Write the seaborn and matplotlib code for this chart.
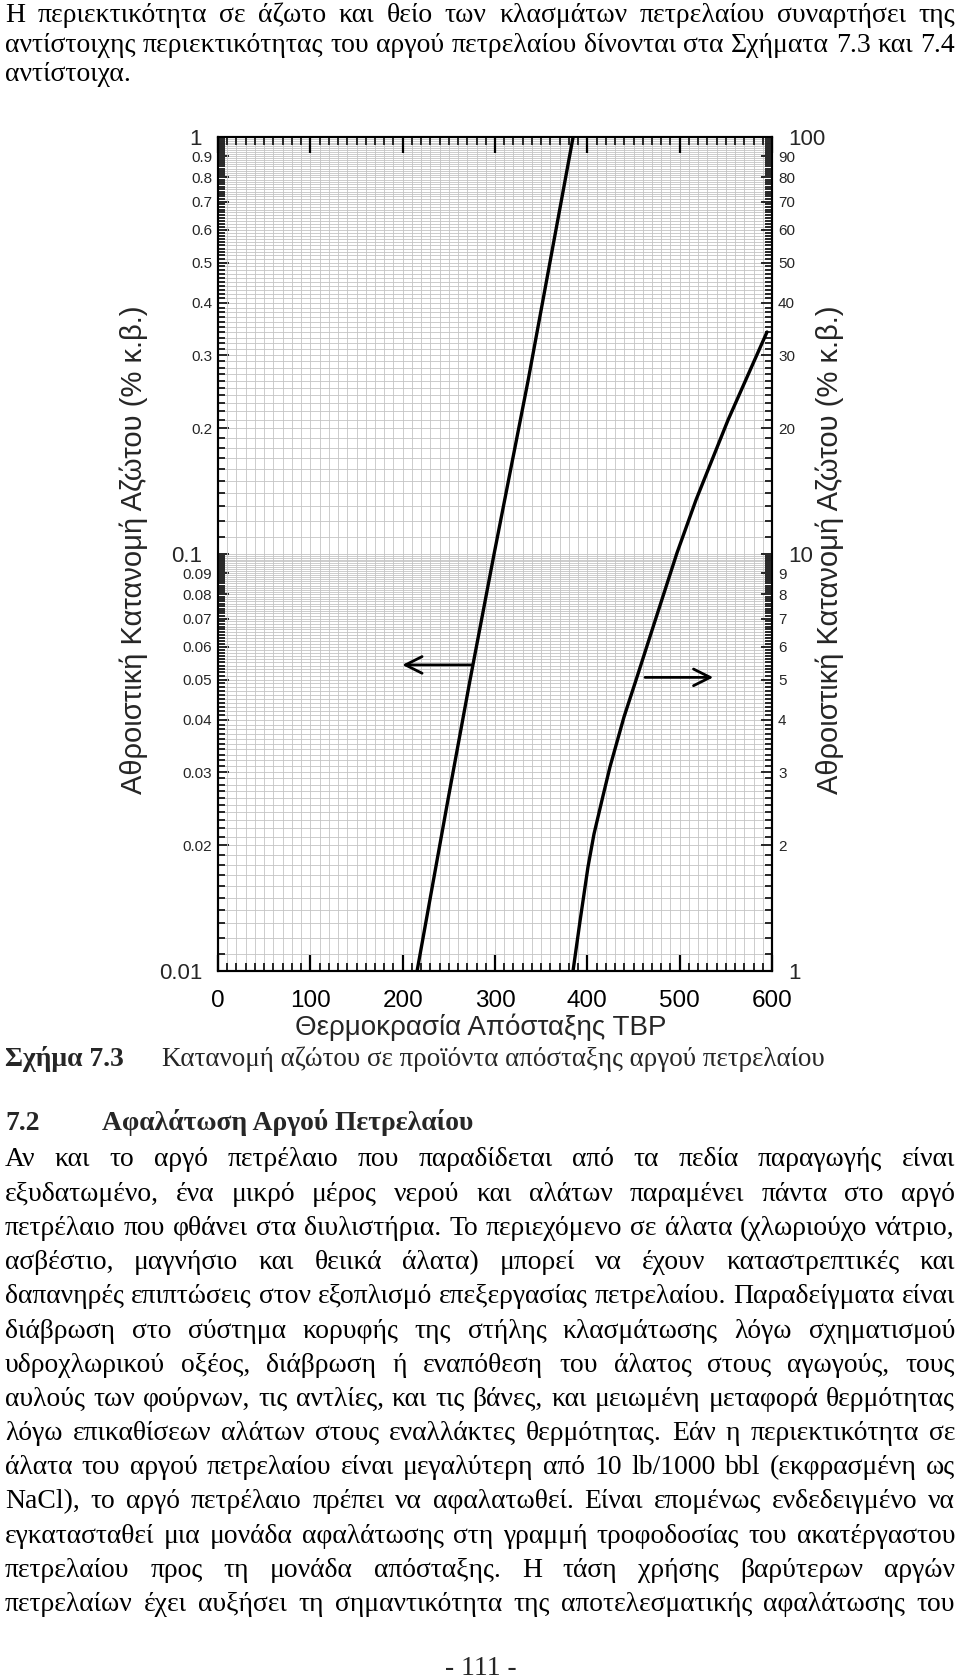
import numpy as np
import matplotlib
matplotlib.use("Agg")
import matplotlib.pyplot as plt
import seaborn as sns

# ---------------- data ----------------
left_temp = [215.6, 249.0, 273.0, 299.0, 335.9, 384.6]
left_nitrogen = [0.01, 0.0257, 0.0499, 0.1, 0.261, 1.0]
right_temp = [384.5, 392.1, 400.7, 407.2, 415.9, 424.5, 439.7, 453.8, 473.3, 497.1, 517.7, 552.4, 594.6]
right_nitrogen = [1.0, 1.318, 1.776, 2.13, 2.571, 3.085, 4.066, 5.07, 6.909, 10.06, 13.48, 20.96, 34.07]

x_ticks = [0, 100, 200, 300, 400, 500, 600]
x_tick_labels = ["0", "100", "200", "300", "400", "500", "600"]
left_ticks = [0.01, 0.02, 0.03, 0.04, 0.05, 0.06, 0.07, 0.08, 0.09,
              0.1, 0.2, 0.3, 0.4, 0.5, 0.6, 0.7, 0.8, 0.9, 1.0]
left_tick_labels = ["0.01", "0.02", "0.03", "0.04", "0.05", "0.06", "0.07", "0.08", "0.09",
                    "0.1", "0.2", "0.3", "0.4", "0.5", "0.6", "0.7", "0.8", "0.9", "1"]
right_ticks = [1, 2, 3, 4, 5, 6, 7, 8, 9, 10, 20, 30, 40, 50, 60, 70, 80, 90, 100]
right_tick_labels = ["1", "2", "3", "4", "5", "6", "7", "8", "9",
                     "10", "20", "30", "40", "50", "60", "70", "80", "90", "100"]
decade_labels = {"0.01", "0.1", "1", "10", "100"}

x_label = "Θερμοκρασία Απόσταξης TBP"
y_label = "Αθροιστική Κατανομή Αζώτου (% κ.β.)"

intro_lines = [
    "Η περιεκτικότητα σε άζωτο και θείο των κλασμάτων πετρελαίου συναρτήσει της",
    "αντίστοιχης περιεκτικότητας του αργού πετρελαίου δίνονται στα Σχήματα 7.3 και 7.4",
    "αντίστοιχα.",
]
caption_num = "Σχήμα 7.3"
caption_text = "Κατανομή αζώτου σε προϊόντα απόσταξης αργού πετρελαίου"
heading_num = "7.2"
heading_text = "Αφαλάτωση Αργού Πετρελαίου"
body_lines = [
    "Αν και το αργό πετρέλαιο που παραδίδεται από τα πεδία παραγωγής είναι",
    "εξυδατωμένο, ένα μικρό μέρος νερού και αλάτων παραμένει πάντα στο αργό",
    "πετρέλαιο που φθάνει στα διυλιστήρια. Το περιεχόμενο σε άλατα (χλωριούχο νάτριο,",
    "ασβέστιο, μαγνήσιο και θειικά άλατα) μπορεί να έχουν καταστρεπτικές και",
    "δαπανηρές επιπτώσεις στον εξοπλισμό επεξεργασίας πετρελαίου. Παραδείγματα είναι",
    "διάβρωση στο σύστημα κορυφής της στήλης κλασμάτωσης λόγω σχηματισμού",
    "υδροχλωρικού οξέος, διάβρωση ή εναπόθεση του άλατος στους αγωγούς, τους",
    "αυλούς των φούρνων, τις αντλίες, και τις βάνες, και μειωμένη μεταφορά θερμότητας",
    "λόγω επικαθίσεων αλάτων στους εναλλάκτες θερμότητας. Εάν η περιεκτικότητα σε",
    "άλατα του αργού πετρελαίου είναι μεγαλύτερη από 10 lb/1000 bbl (εκφρασμένη ως",
    "NaCl), το αργό πετρέλαιο πρέπει να αφαλατωθεί. Είναι επομένως ενδεδειγμένο να",
    "εγκατασταθεί μια μονάδα αφαλάτωσης στη γραμμή τροφοδοσίας του ακατέργαστου",
    "πετρελαίου προς τη μονάδα απόσταξης. Η τάση χρήσης βαρύτερων αργών",
    "πετρελαίων έχει αυξήσει τη σημαντικότητα της αποτελεσματικής αφαλάτωσης του",
]
footer = "- 111 -"

# ---------------- style ----------------
sns.set_theme(style="white")
plt.rcParams["font.family"] = ["Liberation Sans", "DejaVu Sans"]
SERIF = ["Liberation Serif", "DejaVu Serif"]

W, H = 960, 1678
fig = plt.figure(figsize=(W / 100, H / 100), dpi=100)
fig.patch.set_facecolor("white")

ax = fig.add_axes([218 / W, 1 - 971 / H, 554 / W, 834 / H])
ax.set_facecolor("white")
ax.set_yscale("log")

sns.lineplot(x=left_temp, y=left_nitrogen, ax=ax, color="black", linewidth=2.4,
             estimator=None, sort=False)
ax.set_xlim(0, 600)
ax.set_ylim(0.01, 1)

tw = ax.twinx()
tw.set_yscale("log")
sns.lineplot(x=right_temp, y=right_nitrogen, ax=tw, color="black", linewidth=2.4,
             estimator=None, sort=False)
tw.set_ylim(1, 100)
tw.set_xlim(0, 600)

# x ticks / grid
ax.set_xticks(x_ticks)
ax.set_xticklabels(x_tick_labels, fontsize=17.5)
ax.set_xticks(np.arange(0, 601, 10), minor=True)

# y ticks
y_minor = np.concatenate([np.arange(11, 100) / 1000.0, np.arange(11, 100) / 100.0])
ax.yaxis.set_major_locator(matplotlib.ticker.FixedLocator(left_ticks))
ax.yaxis.set_minor_locator(matplotlib.ticker.FixedLocator(y_minor))
ax.yaxis.set_major_formatter(matplotlib.ticker.FixedFormatter(left_tick_labels))
ax.yaxis.set_minor_formatter(matplotlib.ticker.NullFormatter())

tw.yaxis.set_major_locator(matplotlib.ticker.FixedLocator(right_ticks))
tw.yaxis.set_minor_locator(matplotlib.ticker.FixedLocator(y_minor * 100))
tw.yaxis.set_major_formatter(matplotlib.ticker.FixedFormatter(right_tick_labels))
tw.yaxis.set_minor_formatter(matplotlib.ticker.NullFormatter())

ax.grid(which="both", axis="both", color="#c4c4c4", linewidth=0.6)
ax.set_axisbelow(True)
ax.yaxis.set_zorder(0.5)
ax.xaxis.set_zorder(0.7)
tw.grid(False)

ax.tick_params(axis="x", which="major", direction="in", length=11.5, width=1.6,
               top=True, bottom=True, labelsize=17.5, pad=13.5, colors="black")
ax.tick_params(axis="x", which="minor", direction="in", length=5.8, width=1.4,
               top=True, bottom=True)
ax.tick_params(axis="y", which="major", direction="in", length=8, width=1.4,
               left=True, right=False, labelsize=11, pad=4.3)
ax.tick_params(axis="y", which="minor", direction="in", length=5, width=1.4,
               left=True, right=False)
tw.tick_params(axis="y", which="major", direction="in", length=8, width=1.4,
               right=True, left=False, labelsize=11, pad=4.3)
tw.tick_params(axis="y", which="minor", direction="in", length=5, width=1.4,
               right=True, left=False)

for a in (ax, tw):
    for s in a.spines.values():
        s.set_visible(True)
        s.set_color("black")
        s.set_linewidth(1.5)

fig.canvas.draw()
for axis_obj, labels in ((ax.yaxis, left_tick_labels), (tw.yaxis, right_tick_labels)):
    ticks = axis_obj.get_major_ticks()
    for t, lab in zip(ticks, labels):
        if lab in decade_labels:
            t.tick1line.set_markersize(12)
            t.tick2line.set_markersize(12)
            t.label1.set_fontsize(16)
            t.label2.set_fontsize(16)
            t.set_pad(11.5)

ax.set_xlabel(x_label, fontsize=20)
ax.xaxis.set_label_coords((481 - 218) / 554, (971 - 1027) / 834)
ax.xaxis.label.set_va("center")
ax.set_ylabel(y_label, fontsize=21)
ax.yaxis.set_label_coords((134 - 218) / 554, (971 - 550) / 834)
ax.yaxis.label.set_va("center")
tw.set_ylabel(y_label, fontsize=21, rotation=90)
tw.yaxis.set_label_position("right")
tw.yaxis.set_label_coords((830 - 218) / 554, (971 - 550) / 834)
tw.yaxis.label.set_va("center")

# arrows
ax.annotate("", xy=(199.6, 0.0542), xytext=(274.8, 0.0542),
            arrowprops=dict(arrowstyle="->", color="black", lw=2.0, mutation_scale=30,
                            shrinkA=0, shrinkB=0))
tw.annotate("", xy=(536.4, 5.06), xytext=(462.5, 5.06),
            arrowprops=dict(arrowstyle="->", color="black", lw=2.0, mutation_scale=30,
                            shrinkA=0, shrinkB=0))

# ---------------- page text ----------------
renderer = fig.canvas.get_renderer()


def measure(words, size, weight):
    objs = [fig.text(0, 0, w, fontsize=size, family=SERIF, weight=weight) for w in words]
    widths = [o.get_window_extent(renderer).width for o in objs]
    for o in objs:
        o.remove()
    return widths


def fit_size(lines, target, size0=16, weight="normal"):
    best = 0
    for ln in lines:
        words = ln.split()
        ws = measure(words, size0, weight)
        nat = sum(ws) + (len(words) - 1) * 0.25 * size0 * 100 / 72
        best = max(best, nat)
    return size0 * target / best


def place(text, base_y, size, x0=5, x1=955, weight="normal", justify=True):
    words = text.split()
    ws = measure(words, size, weight)
    if justify and len(words) > 1:
        gap = (x1 - x0 - sum(ws)) / (len(words) - 1)
    else:
        gap = 0.25 * size * 100 / 72
    x = x0
    for w, wd in zip(words, ws):
        fig.text(x / W, 1 - base_y / H, w, fontsize=size, family=SERIF, weight=weight,
                 ha="left", va="baseline", color="black")
        x += wd + gap


intro_size = fit_size([intro_lines[1]], 950)
for i, ln in enumerate(intro_lines):
    place(ln, 22 + i * 29.5, intro_size, justify=(i < len(intro_lines) - 1))

body_size = fit_size([body_lines[2], body_lines[4]], 952)
for i, ln in enumerate(body_lines):
    place(ln, 1166.5 + i * 34.2, body_size, justify=True)

fig.text(5 / W, 1 - 1066 / H, caption_num, fontsize=body_size, family=SERIF,
         weight="bold", ha="left", va="baseline")
cap_size = fit_size([caption_text], 662)
fig.text(162 / W, 1 - 1066 / H, caption_text, fontsize=cap_size, family=SERIF,
         ha="left", va="baseline")

fig.text(5 / W, 1 - 1130 / H, heading_num, fontsize=body_size, family=SERIF,
         weight="bold", ha="left", va="baseline")
fig.text(102 / W, 1 - 1130 / H, heading_text, fontsize=body_size, family=SERIF,
         weight="bold", ha="left", va="baseline")

fig.text(481 / W, 1 - 1675 / H, footer, fontsize=body_size, family=SERIF,
         ha="center", va="baseline")

fig.savefig("out.png", dpi=100, facecolor="white")
